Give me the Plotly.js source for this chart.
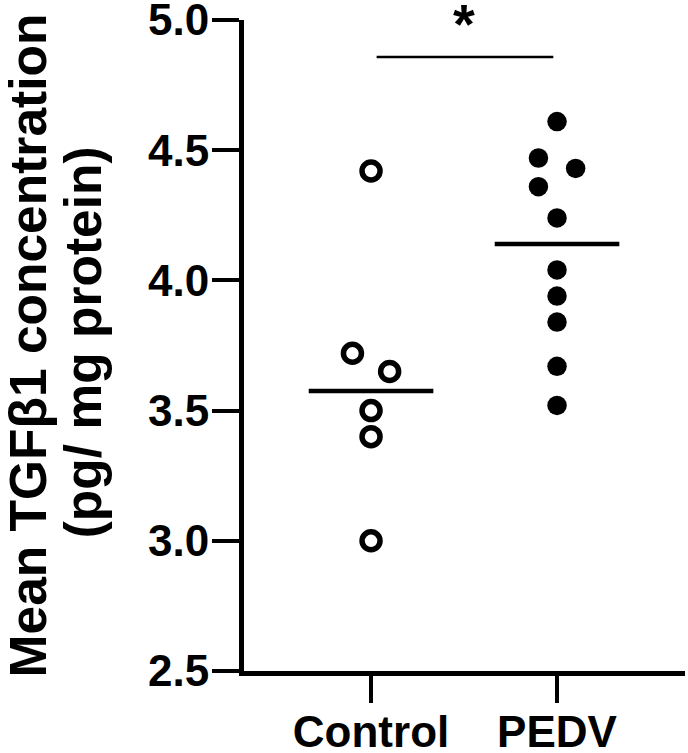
<!DOCTYPE html>
<html>
<head>
<meta charset="utf-8">
<script src="https://cdn.plot.ly/plotly-3.0.1.min.js"></script>
<style>
  html, body { margin: 0; padding: 0; background: #fff; }
  #chart { width: 688px; height: 753px; }
</style>
</head>
<body>
<div id="chart"></div>
<script>
// groups on the x axis
var groups = ['Control', 'PEDV'];

// TGFb1 values (pg/ mg protein)
var controlVals = [4.42, 3.72, 3.65, 3.50, 3.40, 3.00];
var pedvVals = [4.61, 4.47, 4.43, 4.36, 4.24, 4.04, 3.94, 3.84, 3.67, 3.52];

// horizontal scatter offsets so overlapping dots sit side by side
var controlJitter = [0, -0.1, 0.1, 0, 0, 0];
var pedvJitter = [0, -0.1, 0.1, -0.1, 0, 0, 0, 0, 0, 0];

var yTicks = [2.5, 3.0, 3.5, 4.0, 4.5, 5.0];

function median(arr) {
  var s = arr.slice().sort(function(a, b) { return a - b; });
  var m = Math.floor(s.length / 2);
  return s.length % 2 ? s[m] : (s[m - 1] + s[m]) / 2;
}

var font = 'Liberation Sans, Arial, sans-serif';
var halfBar = 0.335;

var traces = [];

// control dots (open)
traces.push({
  x: controlVals.map(function(v, i) { return 0 + controlJitter[i]; }),
  y: controlVals,
  type: 'scatter',
  mode: 'markers',
  marker: { symbol: 'circle', size: 18, color: '#fff', line: { color: '#000', width: 5.5 } },
  hoverinfo: 'y'
});

// PEDV dots (filled)
traces.push({
  x: pedvVals.map(function(v, i) { return 1 + pedvJitter[i]; }),
  y: pedvVals,
  type: 'scatter',
  mode: 'markers',
  marker: { symbol: 'circle', size: 19.5, color: '#000' },
  hoverinfo: 'y'
});

// median lines
[controlVals, pedvVals].forEach(function(vals, g) {
  var m = median(vals);
  traces.push({
    x: [g - halfBar, g + halfBar],
    y: [m, m],
    type: 'scatter',
    mode: 'lines',
    line: { color: '#000', width: 4.5 },
    hoverinfo: 'skip'
  });
});

// significance bracket between the groups
var sigY = 4.858;
traces.push({
  x: [0.03, 0.98],
  y: [sigY, sigY],
  type: 'scatter',
  mode: 'lines',
  line: { color: '#000', width: 2.5 },
  hoverinfo: 'skip',
  cliponaxis: false
});

var layout = {
  width: 688,
  height: 753,
  margin: { l: 244, r: 3, t: 20, b: 82 },
  paper_bgcolor: '#fff',
  plot_bgcolor: '#fff',
  showlegend: false,
  font: { family: font, color: '#000' },
  xaxis: {
    range: [-0.683, 1.688],
    tickvals: [0, 1],
    ticktext: groups,
    showgrid: false,
    zeroline: false,
    showline: true,
    linecolor: '#000',
    linewidth: 5,
    ticks: 'outside',
    ticklen: 27,
    tickwidth: 4,
    tickcolor: '#000',
    ticklabelstandoff: -9,
    ticklabeloverflow: 'allow',
    tickfont: { family: font, size: 44, weight: 'bold', color: '#000' },
    fixedrange: true
  },
  yaxis: {
    range: [2.5, 5.0],
    tickvals: yTicks,
    ticktext: yTicks.map(function(v) { return v.toFixed(1); }),
    showgrid: false,
    zeroline: false,
    showline: true,
    linecolor: '#000',
    linewidth: 5,
    ticks: 'outside',
    ticklen: 27,
    tickwidth: 4,
    tickcolor: '#000',
    ticklabelstandoff: -6,
    ticklabeloverflow: 'allow',
    tickfont: { family: font, size: 44, weight: 'bold', color: '#000' },
    fixedrange: true
  },
  annotations: [
    {
      text: 'Mean TGFβ1 concentration',
      xref: 'paper', yref: 'paper',
      x: -0.49, y: 0.5,
      xanchor: 'center', yanchor: 'middle',
      textangle: -90,
      showarrow: false,
      font: { family: font, size: 51.5, weight: 'bold', color: '#000' }
    },
    {
      text: '(pg/ mg protein)',
      xref: 'paper', yref: 'paper',
      x: -0.365, y: 0.505,
      xanchor: 'center', yanchor: 'middle',
      textangle: -90,
      showarrow: false,
      font: { family: font, size: 51.5, weight: 'bold', color: '#000' }
    },
    {
      text: '*',
      xref: 'x', yref: 'y',
      x: 0.5, y: sigY,
      xanchor: 'center', yanchor: 'bottom',
      showarrow: false,
      font: { family: font, size: 56, weight: 'bold', color: '#000' }
    }
  ]
};

Plotly.newPlot('chart', traces, layout, { displayModeBar: false, staticPlot: true });
</script>
</body>
</html>
